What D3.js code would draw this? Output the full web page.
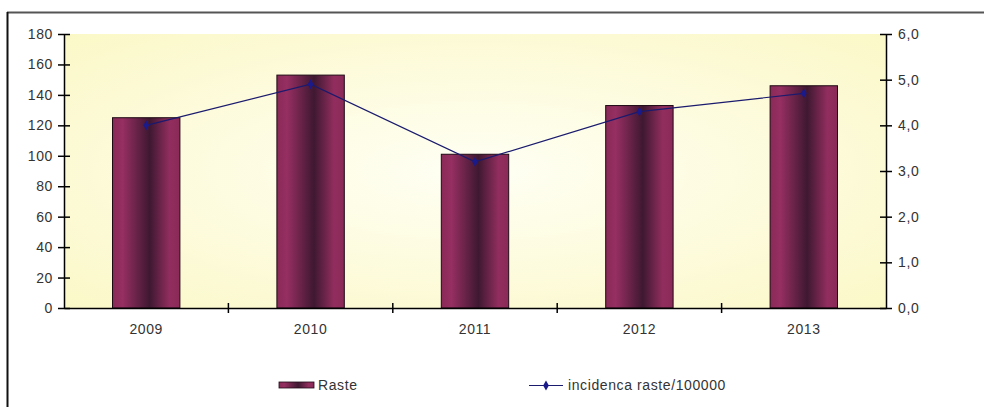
<!DOCTYPE html>
<html><head><meta charset="utf-8">
<script src="https://cdn.jsdelivr.net/npm/d3@7/dist/d3.min.js"></script>
<style>html,body{margin:0;padding:0;background:#fff;}svg{display:block;font-family:"Liberation Sans",Arial,sans-serif;}</style>
</head><body>
<script>
const categories = ["2009","2010","2011","2012","2013"];
const raste = [125, 153, 101, 133, 146];
const incidenca = [4.0, 4.9, 3.2, 4.3, 4.7];
const leftTicks = [0,20,40,60,80,100,120,140,160,180];
const rightTicks = [0,1,2,3,4,5,6];
const seriesNames = ["Raste", "incidenca raste/100000"];

const W = 984, H = 407;
const svg = d3.select("body").append("svg").attr("width", W).attr("height", H);
const defs = svg.append("defs");
const bg = defs.append("radialGradient").attr("id","bg").attr("cx","50%").attr("cy","50%").attr("r","70%");
bg.append("stop").attr("offset","0%").attr("stop-color","#fffff4");
bg.append("stop").attr("offset","100%").attr("stop-color","#fbf8c8");
const bar = defs.append("linearGradient").attr("id","bar").attr("x1","0").attr("x2","1").attr("y1","0").attr("y2","0");
[["0%","#8a2a58"],["15%","#962f62"],["55%","#3e1831"],["85%","#922e5f"],["100%","#8a2a58"]]
  .forEach(s=>bar.append("stop").attr("offset",s[0]).attr("stop-color",s[1]));

const FONT = "'Liberation Sans',Arial,sans-serif";
function styleText(sel){
  sel.attr("fill","#333").style("font-size","14px").style("letter-spacing","0.6px").style("font-family",FONT);
}

// frame
svg.append("line").attr("x1",7).attr("x2",W).attr("y1",12.5).attr("y2",12.5).attr("stroke","#555").attr("stroke-width",2);
svg.append("line").attr("x1",7.5).attr("x2",7.5).attr("y1",12).attr("y2",H).attr("stroke","#111").attr("stroke-width",2);

const L = 64, R = 886, T = 34, B = 308;
const x = d3.scaleBand().domain(categories).range([L,R]);
const yL = d3.scaleLinear().domain([0,180]).range([B,T]);
const yR = d3.scaleLinear().domain([0,6]).range([B,T]);

svg.append("rect").attr("x",L).attr("y",T).attr("width",R-L).attr("height",B-T).attr("fill","url(#bg)");

const bw = x.bandwidth()*0.41;
svg.append("g").selectAll("rect").data(raste).join("rect")
  .attr("x",(d,i)=>x(categories[i])+x.bandwidth()/2-bw/2)
  .attr("y",d=>yL(d)).attr("width",bw).attr("height",d=>B-yL(d))
  .attr("fill","url(#bar)").attr("stroke","#1e0a14").attr("stroke-width",1);

// axes
const fmt = d3.format(".1f");
const gl = svg.append("g").attr("transform",`translate(${L},0)`)
  .call(d3.axisLeft(yL).tickValues(leftTicks).tickSizeInner(6).tickSizeOuter(0).tickPadding(5));
const gr = svg.append("g").attr("transform",`translate(${R},0)`)
  .call(d3.axisRight(yR).tickValues(rightTicks).tickSizeInner(6).tickSizeOuter(0).tickPadding(6).tickFormat(d=>fmt(d).replace(".",",")));
const gx = svg.append("g").attr("transform",`translate(0,${B})`)
  .call(d3.axisBottom(x).tickSize(0).tickPadding(16));
[gl,gr,gx].forEach(g=>{
  g.select(".domain").attr("stroke","#000").attr("stroke-width",1.5);
  styleText(g.selectAll("text"));
});
// cross ticks
gl.selectAll(".tick line").attr("x1",-6).attr("x2",6).attr("stroke","#000").attr("stroke-width",1.5);
gr.selectAll(".tick line").attr("x1",-6).attr("x2",6).attr("stroke","#000").attr("stroke-width",1.5);
svg.append("g").selectAll("line").data(categories.slice(1)).join("line")
  .attr("x1",d=>x(d)).attr("x2",d=>x(d)).attr("y1",B-5).attr("y2",B+5)
  .attr("stroke","#000").attr("stroke-width",1.5);

// line
const line = d3.line().x((d,i)=>x(categories[i])+x.bandwidth()/2).y(d=>yR(d));
svg.append("path").datum(incidenca).attr("d",line).attr("fill","none").attr("stroke","#1a1a6e").attr("stroke-width",1.2);
svg.append("g").selectAll("path").data(incidenca).join("path")
  .attr("transform",(d,i)=>`translate(${x(categories[i])+x.bandwidth()/2},${yR(d)})`)
  .attr("d",d3.symbol(d3.symbolDiamond,28)).attr("fill","#1a1a8a");

// legend
const lg = svg.append("g");
lg.append("rect").attr("x",279).attr("y",382).attr("width",35).attr("height",6).attr("fill","url(#bar)").attr("stroke","#1e0a14").attr("stroke-width",0.8);
styleText(lg.append("text").attr("x",318).attr("y",390).text(seriesNames[0]));
lg.append("line").attr("x1",529).attr("x2",563).attr("y1",385.5).attr("y2",385.5).attr("stroke","#1a1a6e").attr("stroke-width",1.2);
lg.append("path").attr("transform","translate(546,385.5)").attr("d",d3.symbol(d3.symbolDiamond,28)).attr("fill","#1a1a8a");
styleText(lg.append("text").attr("x",568).attr("y",390).text(seriesNames[1]));
</script>
</body></html>
